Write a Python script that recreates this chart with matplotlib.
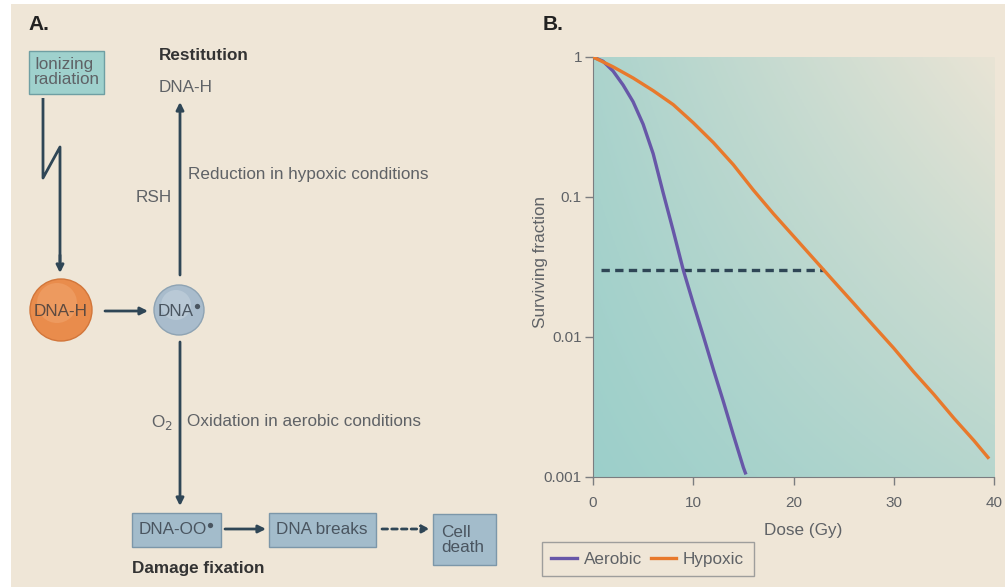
import numpy as np
import matplotlib
matplotlib.use("Agg")
import matplotlib.pyplot as plt
from matplotlib.patches import Rectangle, Circle
from matplotlib.colors import to_rgb

plt.rcParams['font.family'] = ['Liberation Sans', 'DejaVu Sans']

# Surviving fraction curves
dose_aerobic = [0, 1, 2, 3, 4, 5, 6, 7, 8, 9, 10, 11, 12, 13, 14, 15, 15.2]
sf_aerobic = [1.0, 0.933, 0.794, 0.631, 0.479, 0.331, 0.204, 0.107, 0.0575,
              0.0302, 0.0174, 0.0102, 0.00589, 0.00347, 0.00200, 0.00117, 0.00107]

dose_hypoxic = [0, 2, 4, 6, 8, 10, 12, 14, 16, 18, 20, 22, 24, 26, 28, 30,
                32, 34, 36, 38, 39.4]
sf_hypoxic = [1.0, 0.851, 0.708, 0.575, 0.457, 0.339, 0.245, 0.170, 0.112,
              0.0759, 0.0525, 0.0363, 0.0251, 0.0174, 0.0120, 0.00832,
              0.00562, 0.00389, 0.00263, 0.00182, 0.00138]

iso_dose = [0.8, 23.0]
iso_sf = 0.030

x_ticks = [0, 10, 20, 30, 40]
y_ticks = [1, 0.1, 0.01, 0.001]
y_ticklabels = ["1", "0.1", "0.01", "0.001"]

beige = "#efe6d7"
navy = "#2f4656"
gray_txt = "#5f6266"
box_txt = "#4a5560"
purple = "#6757a8"
orange = "#e8792c"
fs = 12.3

W, H = 1005, 587
fig = plt.figure(figsize=(W / 100, H / 100), dpi=100)
fig.patch.set_facecolor(beige)

# ---- panel A: diagram drawn in pixel coordinates ----
d = fig.add_axes([0, 0, 1, 1], zorder=0)
d.set_xlim(0, W)
d.set_ylim(H, 0)
d.axis("off")
d.add_patch(Rectangle((0, 0), W, 4, color="white", lw=0))
d.add_patch(Rectangle((0, 0), 11, H, color="white", lw=0))

d.text(28, 25, "A.", fontsize=15, fontweight="bold", color="#222", va="center")
d.text(543, 25, "B.", fontsize=15, fontweight="bold", color="#222", va="center")


def arrow(x0, y0, x1, y1, **kw):
    d.annotate("", xy=(x1, y1), xytext=(x0, y0),
               arrowprops=dict(arrowstyle="-|>", color=navy, lw=2, mutation_scale=11,
                               shrinkA=0, shrinkB=0, **kw))


def radical(x, y, label, **kw):
    # label followed by a raised solid dot
    t = d.text(x, y, label, fontsize=fs, color=box_txt, va="center", **kw)
    fig.canvas.draw()
    bb = t.get_window_extent().transformed(d.transData.inverted())
    top = min(bb.y0, bb.y1)
    d.plot([max(bb.x0, bb.x1) + 3], [top + 2], marker="o", ms=3.8, color=box_txt, mec="none")


# ionizing radiation box
d.add_patch(Rectangle((29, 51), 75, 43, facecolor="#9fd1cd", edgecolor="#6f9fa3", lw=1))
d.text(34, 72, "Ionizing\nradiation", fontsize=fs, color=gray_txt, va="center",
       linespacing=1.0)

# lightning arrow
d.plot([43, 43, 60, 60], [98, 178, 147, 262], color=navy, lw=2, solid_capstyle="butt")
arrow(60, 255, 60, 273)

# DNA-H circle
d.add_patch(Circle((61, 310), 31, facecolor="#e98c4c", edgecolor="#d2763a", lw=1))
d.add_patch(Circle((57, 303), 20, facecolor="#f2a872", edgecolor="none", alpha=0.5))
d.text(61, 311, "DNA-H", fontsize=fs, color="#5c4a40", ha="center", va="center")

arrow(105, 311, 148, 311)

# DNA radical circle
d.add_patch(Circle((179, 310), 25, facecolor="#a9bccc", edgecolor="#8ea3b3", lw=1))
d.add_patch(Circle((176, 305), 15, facecolor="#c4d3de", edgecolor="none", alpha=0.6))
radical(158, 311, "DNA")

# restitution branch
arrow(180, 275, 180, 102)
d.text(159, 56, "Restitution", fontsize=fs, fontweight="bold", color="#333", va="center")
d.text(159, 87, "DNA-H", fontsize=fs, color=gray_txt, va="center")
d.text(172, 198, "RSH", fontsize=fs, color=gray_txt, ha="right", va="center")
d.text(188, 174, "Reduction in hypoxic conditions", fontsize=fs, color=gray_txt, va="center")

# fixation branch
arrow(180, 342, 180, 506)
d.text(173, 422, "O$_2$", fontsize=fs, color=gray_txt, ha="right", va="center")
d.text(187, 421, "Oxidation in aerobic conditions", fontsize=fs, color=gray_txt, va="center")

box_kw = dict(facecolor="#a3bccb", edgecolor="#7c97a9", lw=1)
d.add_patch(Rectangle((132, 513), 89, 34, **box_kw))
radical(139, 530, "DNA-OO")
arrow(225, 529, 266, 529)
d.add_patch(Rectangle((269, 513), 107, 34, **box_kw))
d.text(322, 530, "DNA breaks", fontsize=fs, color=box_txt, ha="center", va="center")
arrow(382, 529, 430, 529, ls=(0, (2, 1.5)))
d.add_patch(Rectangle((433, 514), 63, 51, **box_kw))
d.text(441, 540, "Cell\ndeath", fontsize=fs, color=box_txt, va="center", linespacing=1.0)
d.text(132, 569, "Damage fixation", fontsize=fs, fontweight="bold", color="#333", va="center")

# ---- panel B: survival curves ----
ax = fig.add_axes([593 / W, 1 - 477 / H, 401 / W, 420 / H], zorder=1)

teal = np.array(to_rgb("#9ccfca"))
sand = np.array(to_rgb("#e9e4d5"))
gx, gy = np.meshgrid(np.linspace(0, 1, 200), np.linspace(1, 0, 200))
t = np.clip(0.35 * gx + 0.2 * gy + 0.45 * gx * gy, 0, 1)[..., None]
grad = teal * (1 - t) + sand * t
ax.imshow(grad, extent=[0, 1, 0, 1], transform=ax.transAxes, aspect="auto", zorder=0)

ax.set_yscale("log")
ax.plot(dose_aerobic, sf_aerobic, color=purple, lw=2.4, label="Aerobic", zorder=3)
ax.plot(dose_hypoxic, sf_hypoxic, color=orange, lw=2.4, label="Hypoxic", zorder=3)
ax.plot(iso_dose, [iso_sf, iso_sf], color=navy, lw=2.4, ls=(0, (2.5, 1.6)), zorder=2)

ax.set_xlim(0, 40)
ax.set_ylim(0.001, 1)
ax.set_xticks(x_ticks)
ax.set_xticklabels([str(v) for v in x_ticks])
ax.set_yticks(y_ticks)
ax.set_yticklabels(y_ticklabels)
ax.yaxis.set_minor_locator(matplotlib.ticker.NullLocator())
ax.tick_params(colors="#7b7d80", labelcolor=gray_txt, labelsize=11, length=6, width=1)
ax.tick_params(axis="x", pad=8)
ax.tick_params(axis="y", pad=2)
for s in ["top", "right"]:
    ax.spines[s].set_visible(False)
for s in ["left", "bottom"]:
    ax.spines[s].set_color("#7b7d80")
ax.set_xlabel("Dose (Gy)", fontsize=fs, color=gray_txt)
ax.xaxis.set_label_coords((803 - 593) / 401, -(523 - 477) / 420)
ax.set_ylabel("Surviving fraction", fontsize=fs, color=gray_txt)
ax.yaxis.set_label_coords((548 - 593) / 401, (477 - 262) / 420)

leg = ax.legend(loc="lower left", bbox_to_anchor=(542 / W, 1 - 576 / H),
                bbox_transform=fig.transFigure, ncol=2, frameon=True, fancybox=False,
                fontsize=fs, handlelength=1.5, handletextpad=0.4, columnspacing=0.5,
                borderaxespad=0, borderpad=0.55)
leg.get_frame().set_edgecolor("#8a8c8e")
leg.get_frame().set_facecolor(beige)
for txt in leg.get_texts():
    txt.set_color(gray_txt)

fig.savefig("out.png", dpi=100, facecolor=fig.get_facecolor())
